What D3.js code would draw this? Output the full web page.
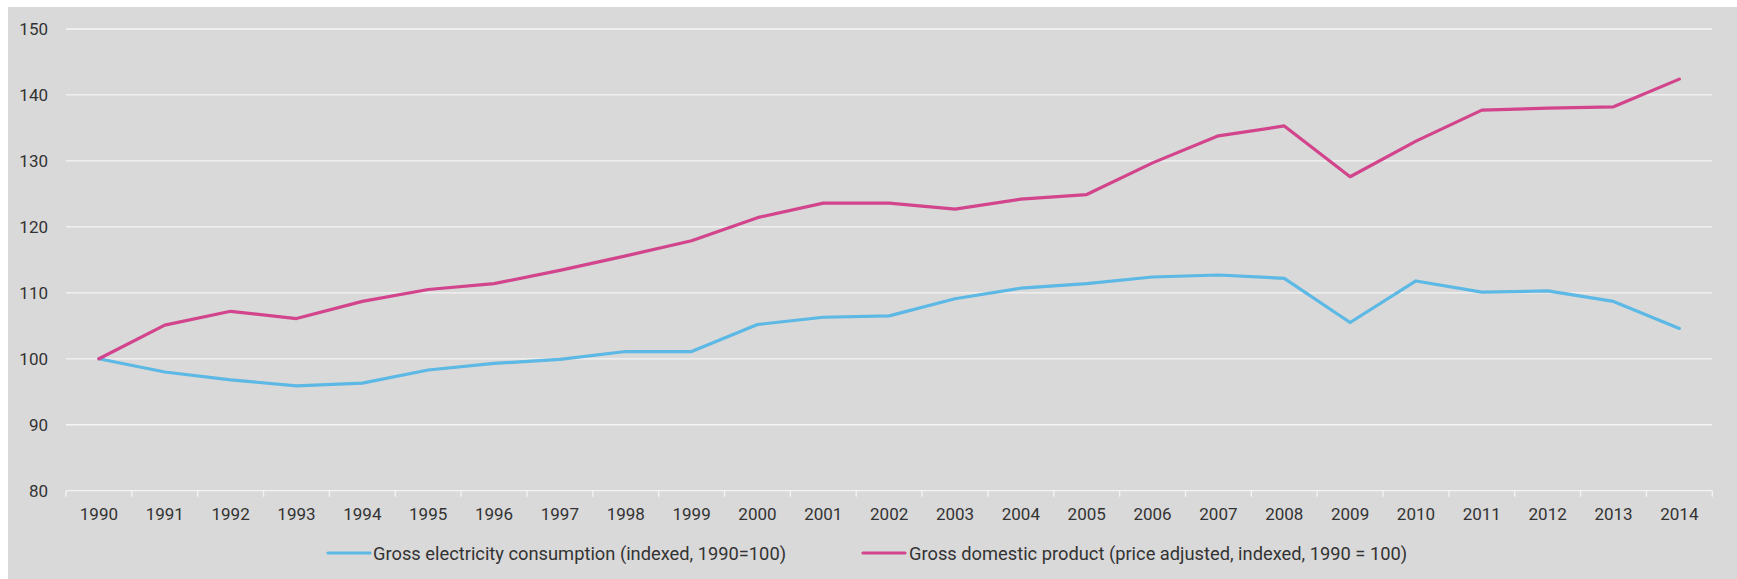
<!DOCTYPE html>
<html>
<head>
<meta charset="utf-8">
<script src="https://cdn.jsdelivr.net/npm/d3@7"></script>
<style>
  html, body { margin: 0; padding: 0; background: #ffffff; }
  svg { display: block; }
  text { font-family: Roboto, "Open Sans", sans-serif; fill: #333333; }
</style>
</head>
<body>
<svg id="chart" width="1737" height="579"></svg>
<script>
// Years on the category axis
const years = ["1990","1991","1992","1993","1994","1995","1996","1997","1998","1999",
               "2000","2001","2002","2003","2004","2005","2006","2007","2008","2009",
               "2010","2011","2012","2013","2014"];

// Gross electricity consumption, indexed 1990 = 100
const electricity = [100.0, 98.0, 96.8, 95.9, 96.3, 98.3, 99.3, 99.9, 101.1, 101.1,
                     105.2, 106.3, 106.5, 109.1, 110.7, 111.4, 112.4, 112.7, 112.2, 105.5,
                     111.8, 110.1, 110.3, 108.7, 104.6];

// Gross domestic product, price adjusted, indexed 1990 = 100
const gdp = [100.0, 105.1, 107.2, 106.1, 108.7, 110.5, 111.4, 113.4, 115.6, 117.9,
             121.4, 123.6, 123.6, 122.7, 124.2, 124.9, 129.7, 133.8, 135.3, 127.6,
             133.0, 137.7, 138.0, 138.2, 142.4];

const yTicks = [80, 90, 100, 110, 120, 130, 140, 150];

const seriesNames = ["Gross electricity consumption (indexed, 1990=100)",
                     "Gross domestic product (price adjusted, indexed, 1990 = 100)"];
const seriesColors = ["#5cb8e4", "#d2448c"];

const svg = d3.select("#chart");

// grey panel
svg.append("rect")
  .attr("x", 8).attr("y", 7)
  .attr("width", 1737 - 8).attr("height", 579 - 7)
  .attr("fill", "#d9d9d9");

const x = d3.scaleBand().domain(years).range([66, 1712.3]);
const y = d3.scaleLinear().domain([80, 150]).range([490.7, 29]);

// horizontal gridlines
svg.append("g")
  .selectAll("line")
  .data(yTicks.filter(d => d !== 80))
  .join("line")
  .attr("x1", 66).attr("x2", 1712.3)
  .attr("y1", d => y(d)).attr("y2", d => y(d))
  .attr("stroke", "#f4f4f4").attr("stroke-width", 1.3);

// y axis labels
const yAxis = d3.axisLeft(y).tickValues(yTicks).tickSize(0).tickPadding(18);
const gy = svg.append("g").attr("transform", "translate(66,0)").call(yAxis);
gy.select(".domain").remove();
gy.selectAll("text").attr("font-size", 17).attr("fill", "#333333")
  .style("font-family", "Roboto, sans-serif");

// x axis with ticks at category boundaries
const gx = svg.append("g").attr("transform", `translate(0,${y(80)})`);
gx.append("line")
  .attr("x1", 66).attr("x2", 1712.3)
  .attr("stroke", "#f4f4f4").attr("stroke-width", 1.3);
const bounds = years.map(d => x(d)).concat([x(years[years.length - 1]) + x.bandwidth()]);
gx.selectAll("line.tick")
  .data(bounds)
  .join("line")
  .attr("class", "tick")
  .attr("x1", d => d).attr("x2", d => d)
  .attr("y1", 0).attr("y2", 6)
  .attr("stroke", "#f4f4f4").attr("stroke-width", 1.3);
gx.selectAll("text")
  .data(years)
  .join("text")
  .attr("x", d => x(d) + x.bandwidth() / 2)
  .attr("y", 29)
  .attr("text-anchor", "middle")
  .attr("font-size", 17)
  .text(d => d);

// series lines
const line = d3.line()
  .x((d, i) => x(years[i]) + x.bandwidth() / 2)
  .y(d => y(d));

[electricity, gdp].forEach((vals, k) => {
  svg.append("path")
    .datum(vals)
    .attr("d", line)
    .attr("fill", "none")
    .attr("stroke", seriesColors[k])
    .attr("stroke-width", 3.2)
    .attr("stroke-linejoin", "round")
    .attr("stroke-linecap", "round");
});

// legend
const legend = [
  { x1: 328, x2: 370, tx: 373 },
  { x1: 863, x2: 905, tx: 909 }
];
legend.forEach((l, k) => {
  svg.append("line")
    .attr("x1", l.x1).attr("x2", l.x2)
    .attr("y1", 553).attr("y2", 553)
    .attr("stroke", seriesColors[k]).attr("stroke-width", 3.2)
    .attr("stroke-linecap", "round");
  svg.append("text")
    .attr("x", l.tx).attr("y", 559.5)
    .attr("font-size", 18.3)
    .text(seriesNames[k]);
});
</script>
</body>
</html>
